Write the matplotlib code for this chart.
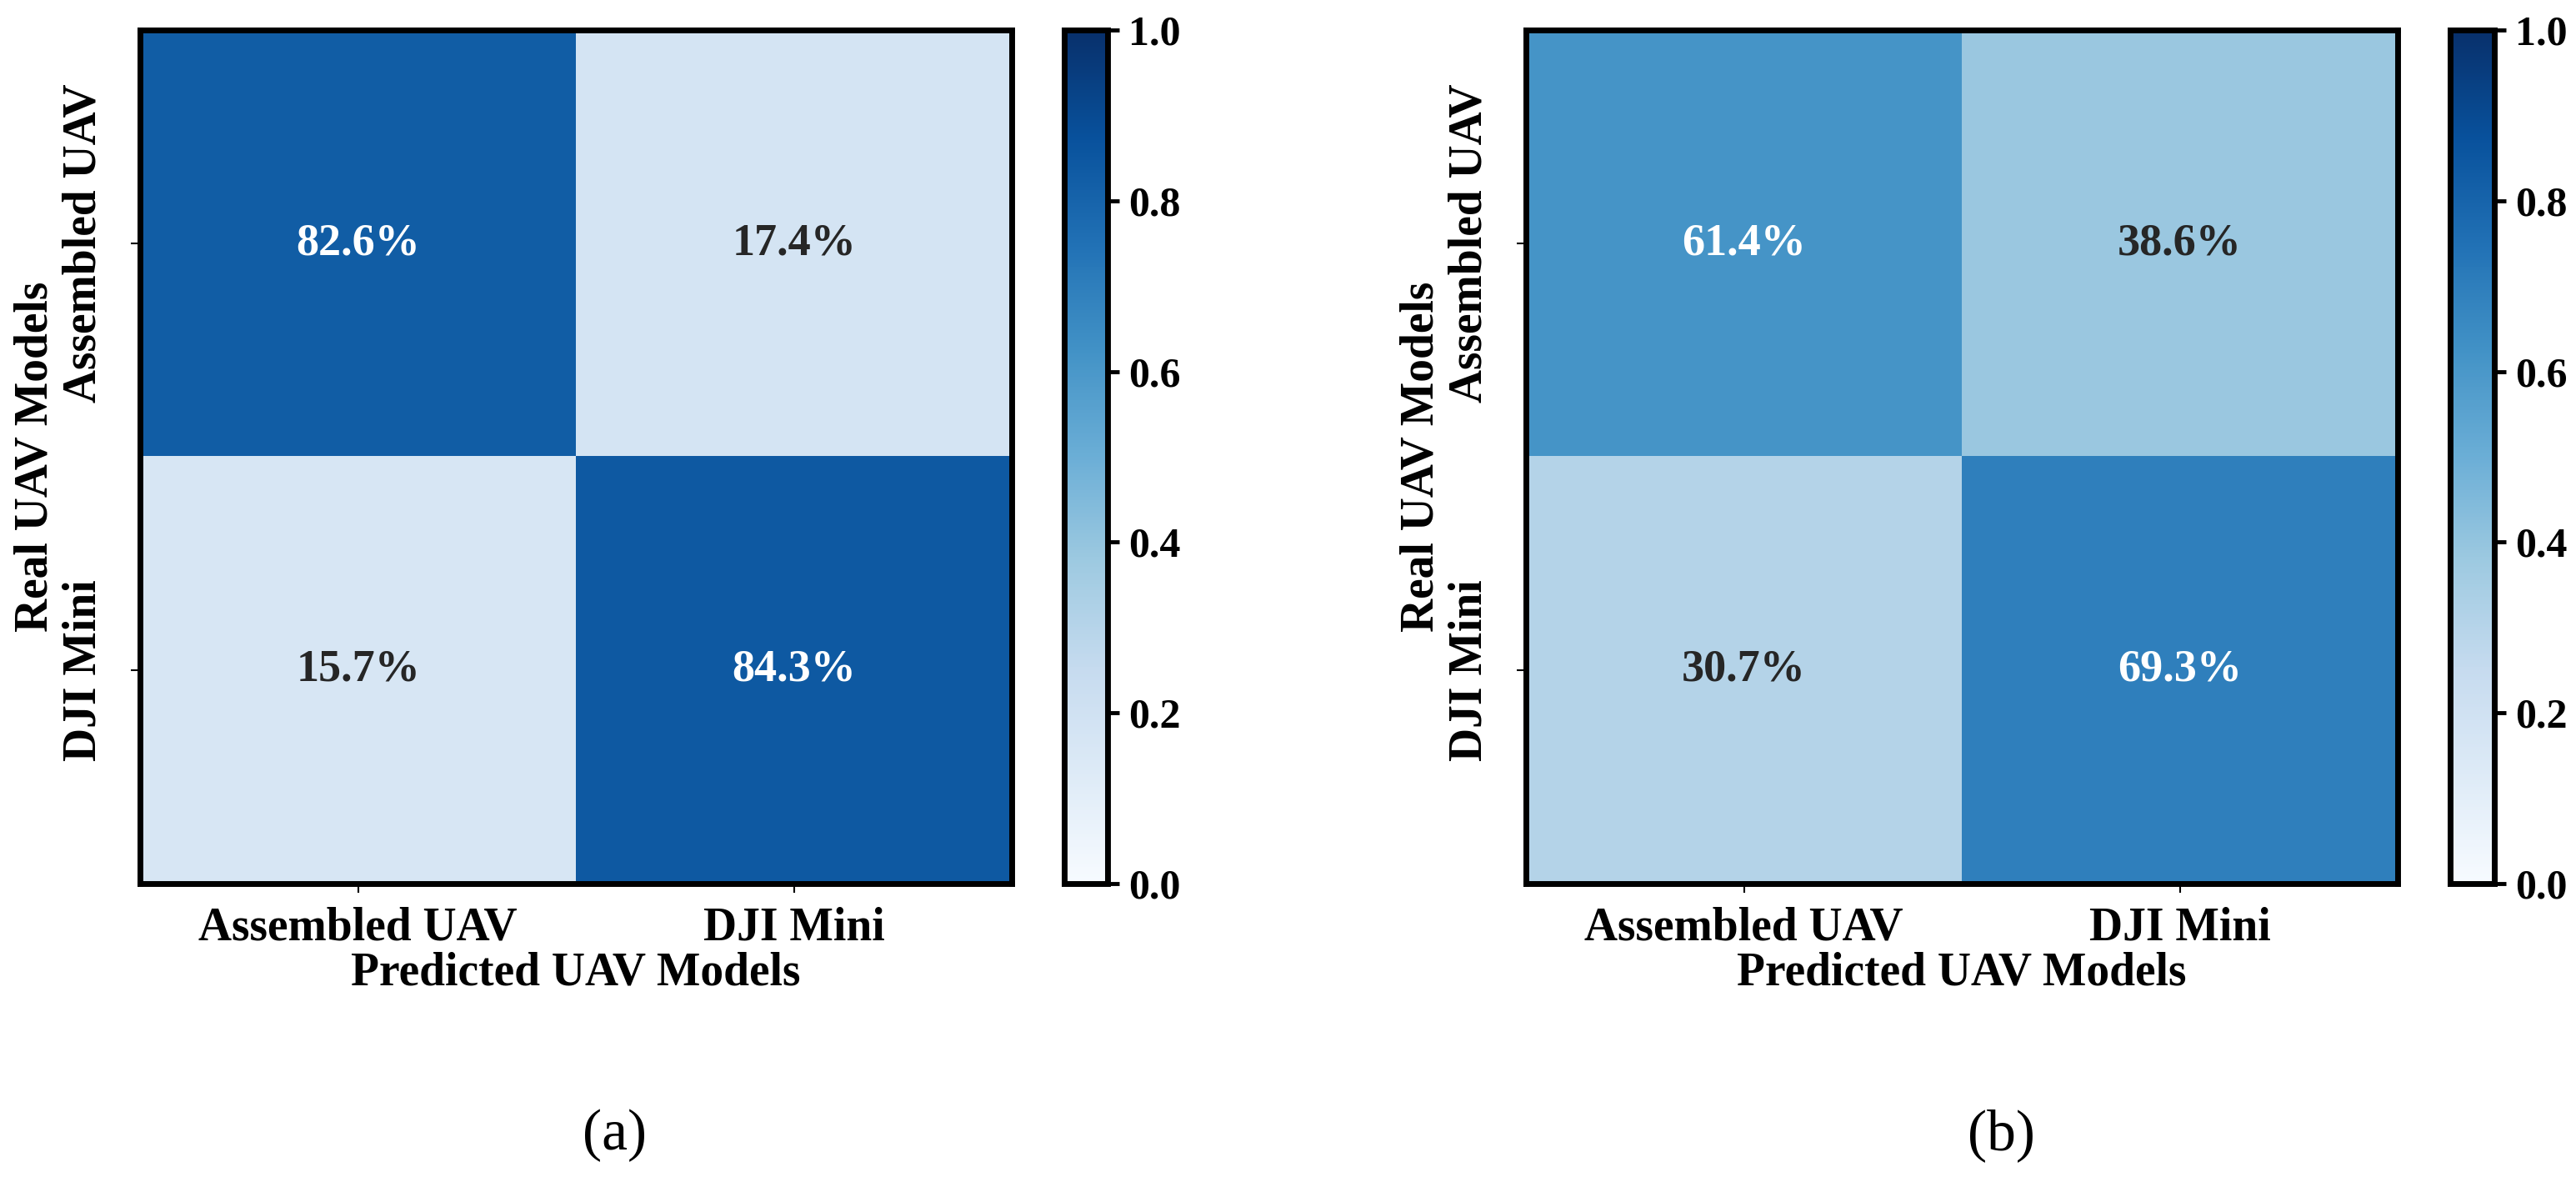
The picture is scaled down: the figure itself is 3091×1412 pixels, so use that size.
import numpy as np
import matplotlib
matplotlib.use('Agg')
import matplotlib.pyplot as plt

# confusion matrices (row = real, col = predicted), fractions
classes = ['Assembled UAV', 'DJI Mini']
cm_a = np.array([[0.826, 0.174],
                 [0.157, 0.843]])
cm_b = np.array([[0.614, 0.386],
                 [0.307, 0.693]])
panel_tags = ['(a)', '(b)']
cbar_ticks = [0.0, 0.2, 0.4, 0.6, 0.8, 1.0]

plt.rcParams['font.family'] = ['Liberation Serif', 'DejaVu Serif']
plt.rcParams['font.weight'] = 'bold'

fig = plt.figure(figsize=(30.91, 14.12), dpi=100)

ax_pos = [[0.0544, 0.2493, 0.3384, 0.7252], [0.5924, 0.2493, 0.3384, 0.7252]]
cb_pos = [[0.4131, 0.2493, 0.0168, 0.7252], [0.9512, 0.2493, 0.0172, 0.7252]]
tag_x = [0.2385, 0.777]

for cm, ap, cp, tag, tx in zip([cm_a, cm_b], ax_pos, cb_pos, panel_tags, tag_x):
    ax = fig.add_axes(ap)
    cax = fig.add_axes(cp)
    im = ax.imshow(cm, cmap='Blues', vmin=0, vmax=1, aspect='auto')

    for i in range(2):
        for j in range(2):
            val = cm[i, j]
            col = 'white' if val > 0.5 else '#262626'
            ax.text(j, i, f'{val*100:.1f}%', ha='center', va='center',
                    color=col, fontsize=39, fontweight='bold')

    ax.set_xticks([0, 1])
    ax.set_xticklabels(classes, fontsize=40, fontweight='bold')
    ax.set_yticks([0, 1])
    ax.set_yticklabels(classes, fontsize=40, fontweight='bold',
                       rotation=90, va='center')
    ax.tick_params(axis='x', length=8, width=1.5, pad=12)
    ax.tick_params(axis='y', length=8, width=1.5, pad=22)
    ax.set_xlabel('Predicted UAV Models', fontsize=40, fontweight='bold')
    ax.set_ylabel('Real UAV Models', fontsize=40, fontweight='bold')
    ax.xaxis.set_label_coords(0.5, -0.08)
    ax.yaxis.set_label_coords(-0.095, 0.5)
    for s in ax.spines.values():
        s.set_linewidth(5)

    cb = fig.colorbar(im, cax=cax, ticks=cbar_ticks)
    cb.outline.set_linewidth(5)
    cb.ax.tick_params(length=10, width=3.5, labelsize=36, pad=8)
    cb.ax.set_yticklabels([f'{t:.1f}' for t in cbar_ticks], fontweight='bold')

    fig.text(tx, 0.035, tag, ha='center', va='center', fontsize=50,
             fontweight='normal')

plt.savefig('out.png', dpi=100)
